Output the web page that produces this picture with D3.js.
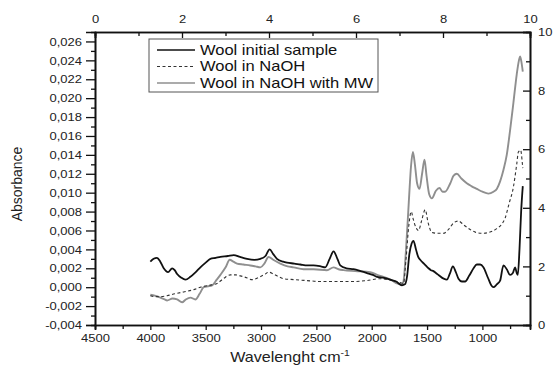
<!DOCTYPE html>
<html>
<head>
<meta charset="UTF-8">
<style>
  body { margin: 0; background: #fff; }
  svg { font-family: 'Liberation Sans', Arial, sans-serif; }
  .tick text { font-size: 11.5px; fill: #222; transform-box: fill-box; transform: scaleX(1.13); }
  .ax-left .tick text { transform-origin: right center; }
  .ax-right .tick text { transform-origin: left center; }
  .ax-top .tick text, .ax-bottom .tick text { transform-origin: center; }
  .wide { transform-box: fill-box; }
</style>
</head>
<body>
<script src="https://cdn.jsdelivr.net/npm/d3@7"></script>
<script>
// wavenumber (cm-1) and absorbance
let woolWn = [4000,3970,3940,3910,3879,3840,3803,3780,3758,3720,3683,3638,3590,3548,3500,3458,3410,3367,3300,3247,3190,3126,3060,3006,2960,2922,2890,2856,2800,2765,2700,2645,2580,2525,2460,2420,2380,2345,2310,2284,2230,2164,2100,2043,1990,1953,1900,1833,1780,1727,1700,1680,1660,1640,1623,1600,1580,1562,1520,1487,1465,1442,1420,1397,1350,1321,1295,1267,1240,1216,1185,1156,1120,1080,1051,1020,991,950,920,901,870,840,810,780,750,725,705,690,680,665,650,635];
let woolAbs = [0.0027,0.0030,0.0031,0.0027,0.0020,0.0016,0.0020,0.0018,0.0014,0.0010,0.0008,0.0011,0.0016,0.0021,0.0026,0.0030,0.0031,0.0032,0.0033,0.0034,0.0032,0.0030,0.0029,0.0030,0.0033,0.0040,0.0035,0.0030,0.0027,0.0026,0.0025,0.0024,0.0023,0.0023,0.0022,0.0021,0.0030,0.0038,0.0030,0.0023,0.0020,0.0019,0.0017,0.0015,0.0013,0.0011,0.0010,0.0008,0.0006,0.0002,0.0003,0.0012,0.0035,0.0046,0.0049,0.0040,0.0032,0.0029,0.0024,0.0020,0.0018,0.0017,0.0015,0.0013,0.0009,0.0008,0.0014,0.0022,0.0016,0.0009,0.0006,0.0006,0.0012,0.0020,0.0024,0.0024,0.0021,0.0010,0.0002,0.0000,0.0003,0.0007,0.0023,0.0019,0.0013,0.0015,0.0021,0.0015,0.0013,0.0040,0.0080,0.0107];

let naohWn = [4000,3950,3900,3849,3780,3699,3620,3548,3470,3397,3340,3277,3230,3187,3130,3081,3010,2960,2932,2890,2840,2796,2700,2585,2465,2404,2284,2164,2050,1923,1850,1773,1713,1690,1665,1643,1625,1600,1577,1550,1517,1490,1457,1400,1352,1300,1260,1216,1170,1111,1060,1006,940,870,830,795,760,720,690,675,654,640,635];
let naohAbs = [-0.0009,-0.0010,-0.0010,-0.0009,-0.0007,-0.0005,-0.0003,0.0000,0.0002,0.0004,0.0009,0.0013,0.0013,0.0012,0.0010,0.0008,0.0011,0.0014,0.0016,0.0014,0.0011,0.0009,0.0008,0.0007,0.0006,0.0006,0.0006,0.0006,0.0007,0.0009,0.0008,0.0006,0.0004,0.0030,0.0065,0.0080,0.0072,0.0063,0.0060,0.0070,0.0082,0.0068,0.0058,0.0057,0.0057,0.0062,0.0068,0.0070,0.0066,0.0061,0.0058,0.0057,0.0058,0.0062,0.0066,0.0073,0.0088,0.0106,0.0130,0.0143,0.0145,0.0132,0.0126];

let mwWn = [4000,3960,3909,3870,3849,3800,3758,3713,3680,3638,3593,3555,3518,3480,3442,3400,3367,3320,3283,3250,3217,3160,3097,3050,3006,2970,2932,2890,2826,2760,2706,2616,2525,2404,2345,2300,2255,2150,2014,1950,1894,1830,1773,1727,1713,1690,1665,1645,1628,1610,1590,1568,1545,1523,1505,1480,1457,1420,1388,1360,1338,1290,1260,1231,1190,1141,1100,1051,1000,946,900,870,840,810,780,750,720,690,670,660,650,635];
let mwAbs = [-0.0008,-0.0009,-0.0011,-0.0013,-0.0014,-0.0012,-0.0013,-0.0016,-0.0013,-0.0011,-0.0013,-0.0007,0.0000,0.0001,0.0002,0.0008,0.0013,0.0021,0.0029,0.0027,0.0025,0.0024,0.0023,0.0022,0.0021,0.0025,0.0032,0.0029,0.0025,0.0022,0.0021,0.0019,0.0019,0.0018,0.0021,0.0019,0.0018,0.0017,0.0016,0.0013,0.0011,0.0008,0.0004,0.0003,0.0006,0.0040,0.0090,0.0128,0.0143,0.0130,0.0110,0.0104,0.0120,0.0135,0.0118,0.0098,0.0094,0.0102,0.0105,0.0101,0.0101,0.0110,0.0118,0.0120,0.0115,0.0110,0.0107,0.0104,0.0101,0.0099,0.0101,0.0104,0.0112,0.0124,0.0140,0.0166,0.0195,0.0225,0.0240,0.0244,0.0240,0.0228];

let seriesNames = ["Wool initial sample", "Wool in NaOH", "Wool in NaOH with MW"];

let leftTicks = [-0.004,-0.002,0,0.002,0.004,0.006,0.008,0.010,0.012,0.014,0.016,0.018,0.020,0.022,0.024,0.026];
let bottomTicks = [4500,4000,3500,3000,2500,2000,1500,1000];
let topTicks = [0,2,4,6,8,10];
let rightTicks = [0,2,4,6,8,10];

let width = 554, height = 369;
let m = {left: 95, right: 530, top: 32, bottom: 325};

let svg = d3.select("body").append("svg")
  .attr("width", width).attr("height", height);

let x = d3.scaleLinear().domain([4500, 570]).range([m.left, m.right]);
let y = d3.scaleLinear().domain([-0.004, 0.027]).range([m.bottom, m.top]);
let xTop = d3.scaleLinear().domain([0, 10]).range([m.left, m.right]);
let yRight = d3.scaleLinear().domain([0, 10]).range([m.bottom, m.top]);

let fmt = d => d3.format(".3f")(d).replace(".", ",").replace("−", "-");

// minor ticks first, then major
svg.append("g").attr("transform", `translate(${m.left},0)`)
  .call(d3.axisLeft(y).tickValues(d3.range(-0.003, 0.0265, 0.002)).tickSize(4).tickFormat(""));
svg.append("g").attr("class", "ax-left").attr("transform", `translate(${m.left},0)`)
  .call(d3.axisLeft(y).tickValues(leftTicks).tickSize(9).tickPadding(4).tickFormat(fmt));

svg.append("g").attr("transform", `translate(0,${m.bottom})`)
  .call(d3.axisBottom(x).tickValues(d3.range(4250, 600, -500)).tickSize(4).tickFormat(""));
svg.append("g").attr("class", "ax-bottom").attr("transform", `translate(0,${m.bottom})`)
  .call(d3.axisBottom(x).tickValues(bottomTicks).tickSize(5).tickPadding(4).tickFormat(d3.format("d")));

svg.append("g").attr("transform", `translate(0,${m.top})`)
  .call(d3.axisTop(xTop).tickValues(d3.range(1, 10, 2)).tickSize(-4).tickFormat(""));
svg.append("g").attr("class", "ax-top").attr("transform", `translate(0,${m.top})`)
  .call(d3.axisTop(xTop).tickValues(topTicks).tickSize(-6).tickPadding(9).tickFormat(d3.format("d")));

svg.append("g").attr("transform", `translate(${m.right},0)`)
  .call(d3.axisRight(yRight).tickValues(d3.range(1, 10, 2)).tickSize(-4).tickFormat(""));
svg.append("g").attr("class", "ax-right").attr("transform", `translate(${m.right},0)`)
  .call(d3.axisRight(yRight).tickValues(rightTicks).tickSize(-7).tickPadding(8).tickFormat(d3.format("d")));

svg.selectAll(".domain").attr("stroke", "#111").attr("stroke-width", 1.6);
svg.selectAll(".tick line").attr("stroke", "#111").attr("stroke-width", 1.3);

let line = d3.line()
  .x(d => x(d[0])).y(d => y(d[1]))
  .curve(d3.curveMonotoneX);

let styles = [
  {color: "#111", w: 1.8, dash: null},
  {color: "#333", w: 1.1, dash: "3,2.5"},
  {color: "#8f8f8f", w: 1.9, dash: null}
];
let data = [
  d3.zip(woolWn, woolAbs),
  d3.zip(naohWn, naohAbs),
  d3.zip(mwWn, mwAbs)
];

let plot = svg.append("g");
[2, 1, 0].forEach(i => {
  plot.append("path")
    .attr("d", line(data[i]))
    .attr("fill", "none")
    .attr("stroke", styles[i].color)
    .attr("stroke-width", styles[i].w)
    .attr("stroke-dasharray", styles[i].dash);
});

// legend
let legend = svg.append("g").attr("transform", "translate(149,39)");
legend.append("rect")
  .attr("width", 229).attr("height", 53)
  .attr("fill", "#fff").attr("stroke", "#555").attr("stroke-width", 1);
seriesNames.forEach((name, i) => {
  let ly = 11 + i * 16.5;
  legend.append("line")
    .attr("x1", 8).attr("x2", 46).attr("y1", ly).attr("y2", ly)
    .attr("stroke", styles[i].color)
    .attr("stroke-width", i === 1 ? 1 : 1.5)
    .attr("stroke-dasharray", styles[i].dash);
  legend.append("text")
    .attr("class", "wide")
    .attr("x", 51).attr("y", ly + 5)
    .attr("font-size", 14)
    .attr("fill", "#111")
    .style("transform-origin", "left center")
    .style("transform", "scaleX(1.18)")
    .text(name);
});

// axis titles
svg.append("text")
  .attr("transform", "translate(22,184) rotate(-90)")
  .attr("text-anchor", "middle")
  .attr("font-size", 14)
  .attr("fill", "#222")
  .text("Absorbance");

let xt = svg.append("text")
  .attr("class", "wide")
  .attr("x", 290)
  .attr("y", 362)
  .attr("text-anchor", "middle")
  .attr("font-size", 14)
  .attr("fill", "#222")
  .style("transform-origin", "center")
  .style("transform", "scaleX(1.15)");
xt.append("tspan").text("Wavelenght cm");
xt.append("tspan").attr("dy", -6).attr("font-size", 9).text("-1");
</script>
</body>
</html>
